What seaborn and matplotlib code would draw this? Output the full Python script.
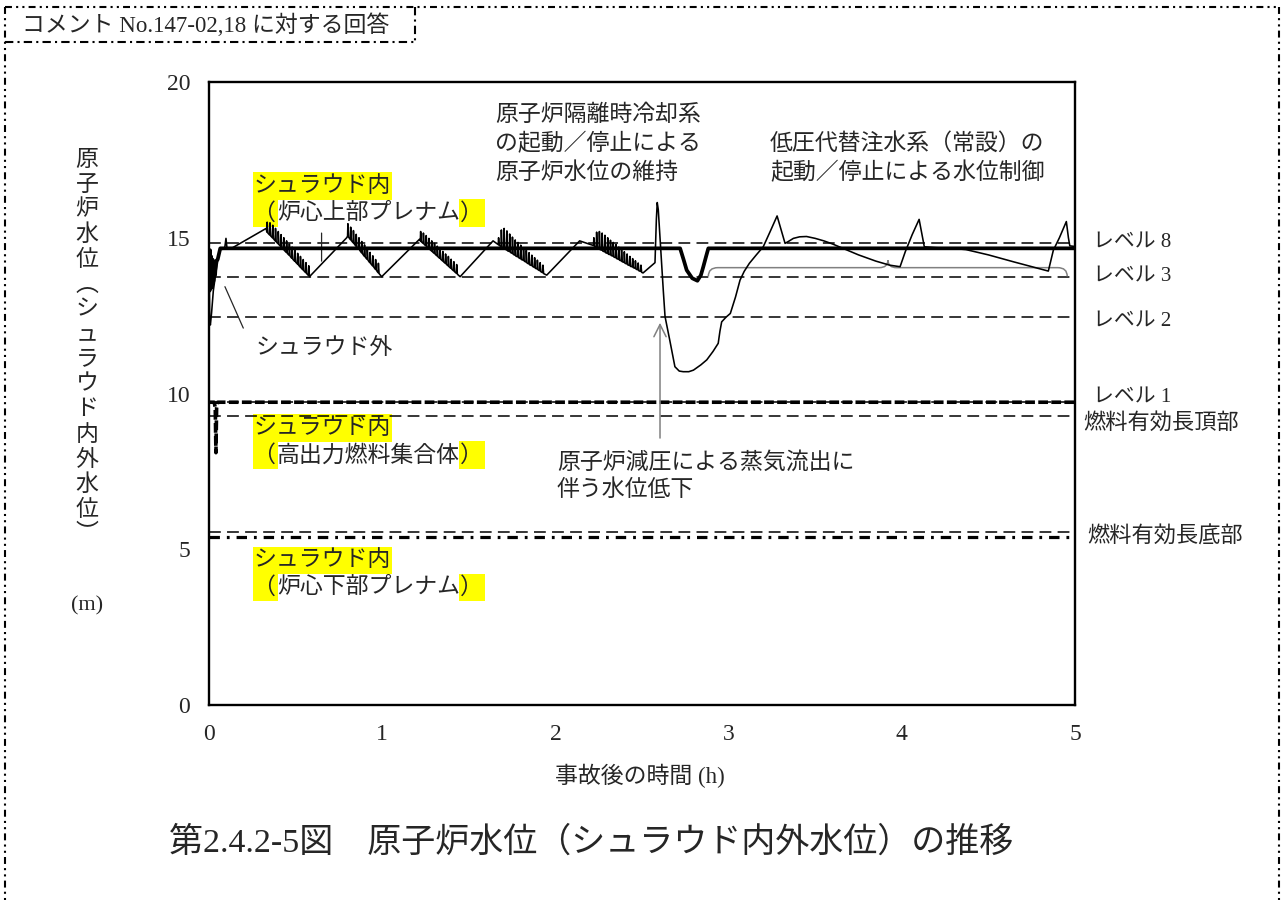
import matplotlib
matplotlib.use("Agg")
import matplotlib.pyplot as plt
import matplotlib.transforms as mtransforms
from matplotlib.patches import Rectangle, PathPatch
from matplotlib.path import Path
from matplotlib.lines import Line2D
import seaborn as sns

sns.set_style("white")
FAMILY = ["Liberation Serif", "Noto Sans CJK JP"]
plt.rcParams["font.family"] = FAMILY
plt.rcParams["axes.unicode_minus"] = False
plt.rcParams["lines.scale_dashes"] = False

INK = "#262626"
HIGHLIGHT = "#ffff00"
GRAY = "#808080"

# ---------------------------------------------------------------- data ----
# reference water levels (m)
level_names = ["レベル 8", "レベル 3", "レベル 2", "レベル 1"]
level_values = [14.83, 13.73, 12.44, 9.72]
fuel_names = ["燃料有効長頂部", "燃料有効長底部"]
fuel_values = [9.28, 5.55]

# thin trace: water level with RCIC start/stop cycling, depressurisation, LPCI control
startup_t = [0.000, 0.004, 0.008, 0.015, 0.025, 0.040, 0.055, 0.065, 0.090, 0.098, 0.104, 0.130, 0.330]
startup_y = [14.60, 12.30, 12.20, 12.60, 13.30, 13.90, 14.40, 14.62, 14.64, 14.98, 14.66, 14.66, 15.30]

# RCIC cycling phases: each spike given by its start time, base level and peak level
cycle_a_t = [0.334, 0.350, 0.366, 0.382, 0.398, 0.414, 0.430, 0.446, 0.462, 0.478, 0.494, 0.510,
             0.526, 0.542, 0.558, 0.574]
cycle_a_base = [15.18, 15.09, 15.00, 14.90, 14.81, 14.72, 14.62, 14.53, 14.44, 14.34, 14.25, 14.16,
                14.06, 13.97, 13.88, 13.79]
cycle_a_peak = [15.50, 15.48, 15.40, 15.30, 15.20, 15.10, 15.00, 14.90, 14.80, 14.70, 14.60, 14.50,
                14.40, 14.30, 14.20, 14.10]
cycle_a_end = (0.580, 13.75)

cycle_b_start = (0.795, 15.00)
cycle_b_t = [0.800, 0.816, 0.832, 0.848, 0.864, 0.880, 0.896, 0.912, 0.928, 0.944, 0.960, 0.976]
cycle_b_base = [15.05, 14.94, 14.84, 14.73, 14.63, 14.52, 14.41, 14.31, 14.20, 14.10, 13.99, 13.88]
cycle_b_peak = [15.45, 15.34, 15.23, 15.11, 15.00, 14.88, 14.77, 14.65, 14.53, 14.42, 14.30, 14.18]
cycle_b_end = (0.997, 13.75)

cycle_c_start = (1.215, 14.95)
cycle_c_t = [1.220, 1.236, 1.252, 1.268, 1.284, 1.300, 1.316, 1.332, 1.348, 1.364, 1.380, 1.396,
             1.412, 1.428]
cycle_c_base = [14.90, 14.82, 14.74, 14.66, 14.58, 14.50, 14.42, 14.34, 14.26, 14.18, 14.10, 14.02,
                13.94, 13.86]
cycle_c_peak = [15.20, 15.15, 15.07, 14.98, 14.90, 14.82, 14.73, 14.65, 14.56, 14.48, 14.40, 14.31,
                14.23, 14.14]
cycle_c_end = (1.450, 13.75)

cycle_d_start = (1.640, 14.90)
cycle_d_t = [1.670, 1.686, 1.702, 1.718, 1.734, 1.750, 1.766, 1.782, 1.798, 1.814, 1.830, 1.846,
             1.862, 1.878, 1.894, 1.910, 1.926]
cycle_d_base = [14.78, 14.72, 14.67, 14.61, 14.56, 14.50, 14.44, 14.39, 14.33, 14.28, 14.22, 14.16,
                14.11, 14.05, 14.00, 13.94, 13.88]
cycle_d_peak = [15.00, 15.25, 15.30, 15.22, 15.12, 15.02, 14.93, 14.85, 14.76, 14.68, 14.60, 14.52,
                14.44, 14.36, 14.28, 14.20, 14.12]
cycle_d_end = (1.950, 13.80)

cycle_e_start = (2.140, 14.90)
cycle_e_t = [2.220, 2.236, 2.252, 2.268, 2.284, 2.300, 2.316, 2.332, 2.348, 2.364, 2.380, 2.396,
             2.412, 2.428, 2.444, 2.460, 2.476, 2.492]
cycle_e_base = [14.75, 14.70, 14.65, 14.60, 14.55, 14.50, 14.46, 14.41, 14.36, 14.31, 14.26, 14.21,
                14.16, 14.11, 14.07, 14.02, 13.97, 13.92]
cycle_e_peak = [15.00, 15.18, 15.20, 15.15, 15.08, 15.00, 14.92, 14.85, 14.78, 14.70, 14.62, 14.55,
                14.48, 14.40, 14.33, 14.26, 14.19, 14.12]
cycle_e_end = (2.506, 13.87)

depress_t = [2.575, 2.583, 2.588, 2.594, 2.605, 2.623, 2.633, 2.660, 2.690, 2.715, 2.738, 2.770,
             2.797, 2.840, 2.874, 2.910, 2.940, 2.950, 2.960, 2.985, 3.010, 3.040, 3.066, 3.090,
             3.120, 3.160, 3.200, 3.240, 3.280, 3.326, 3.345, 3.374, 3.410, 3.450, 3.500, 3.550,
             3.600, 3.660, 3.750, 3.850, 3.930, 3.990]
depress_y = [14.20, 15.60, 16.13, 15.90, 14.90, 13.30, 12.47, 11.72, 10.86, 10.72, 10.70, 10.70,
             10.75, 10.92, 11.08, 11.35, 11.61, 12.00, 12.30, 12.45, 12.57, 13.10, 13.64, 13.92,
             14.18, 14.45, 14.71, 15.20, 15.70, 14.82, 14.88, 14.98, 15.03, 15.04, 14.98, 14.90,
             14.80, 14.66, 14.45, 14.25, 14.12, 14.07]

lpci_t = [4.020, 4.060, 4.100, 4.115, 4.130, 4.200, 4.290, 4.370, 4.500, 4.650, 4.800, 4.846,
          4.875, 4.910, 4.950, 4.962, 4.970, 5.000]
lpci_y = [14.55, 15.10, 15.59, 15.15, 14.71, 14.68, 14.66, 14.62, 14.45, 14.22, 14.00, 13.93,
          14.60, 15.00, 15.52, 15.00, 14.74, 14.72]

# thick trace: steady level with a dip during depressurisation
thick_t = [0.000, 0.003, 0.006, 0.009, 0.012, 0.016, 0.020, 0.025, 0.030, 0.035, 0.040, 0.050,
           0.065, 2.720, 2.740, 2.758, 2.790, 2.820, 2.840, 2.854, 2.870, 2.883, 5.000]
thick_y = [14.50, 13.30, 14.60, 13.50, 14.40, 13.40, 14.30, 13.60, 14.20, 13.80, 14.25, 14.30,
           14.66, 14.66, 14.30, 13.96, 13.70, 13.62, 13.80, 14.07, 14.40, 14.66, 14.66]

# shroud inside, high-power fuel assembly
hp_t = [0.000, 0.030, 0.036, 0.040, 0.044, 0.050, 5.000]
hp_y = [9.72, 9.72, 9.55, 8.10, 9.55, 9.72, 9.72]

# shroud inside, lower plenum
lp_t = [0.0, 5.0]
lp_y = [5.39, 5.39]

# LPCI level-control window marked with a brace
lpci_window = (2.883, 4.955)
lpci_brace_level = 14.04

x_ticks = [0, 1, 2, 3, 4, 5]
y_ticks = [0, 5, 10, 15, 20]

SPIKE_RISE = 0.002   # h, time from spike foot to its tip
SPIKE_FALL = 0.006   # h, time from spike foot back to the base line


def spikes(ts, bases, peaks):
    """Vertical spike train riding on a falling base line."""
    t_out, y_out = [], []
    for t, b, p in zip(ts, bases, peaks):
        t_out += [t, t + SPIKE_RISE, t + SPIKE_FALL]
        y_out += [b, p, b - 0.03]
    return t_out, y_out


thin_t, thin_y = list(startup_t), list(startup_y)
cycles = [
    (None, cycle_a_t, cycle_a_base, cycle_a_peak, cycle_a_end),
    (cycle_b_start, cycle_b_t, cycle_b_base, cycle_b_peak, cycle_b_end),
    (cycle_c_start, cycle_c_t, cycle_c_base, cycle_c_peak, cycle_c_end),
    (cycle_d_start, cycle_d_t, cycle_d_base, cycle_d_peak, cycle_d_end),
    (cycle_e_start, cycle_e_t, cycle_e_base, cycle_e_peak, cycle_e_end),
]
for start, ts, bs, ps, end in cycles:
    if start is not None:
        thin_t.append(start[0])
        thin_y.append(start[1])
    st, sy = spikes(ts, bs, ps)
    thin_t += st + [end[0]]
    thin_y += sy + [end[1]]
thin_t += depress_t + lpci_t
thin_y += depress_y + lpci_y

# -------------------------------------------------------------- figure ----
W, H = 1288, 900
fig = plt.figure(figsize=(W / 100, H / 100), dpi=100)


def px(x, y):
    return x / W, 1 - y / H


ax = fig.add_axes([209 / W, 1 - 705 / H, 866 / W, 623 / H])
ax.set_xlim(0, 5)
ax.set_ylim(0, 20)

DASH = (0, (8.5, 4.5))
for v in level_values + fuel_values:
    ax.axhline(v, color="k", lw=1.1, ls=DASH, zorder=2)

sns.lineplot(x=lp_t, y=lp_y, sort=False, estimator=None, color="k", lw=2.3,
             linestyle=(0, (7.5, 5.0, 2.0, 5.0)), ax=ax, zorder=3)
sns.lineplot(x=hp_t, y=hp_y, sort=False, estimator=None, color="k", lw=2.6,
             linestyle=(0, (7.0, 2.4)), ax=ax, zorder=3)
sns.lineplot(x=thick_t, y=thick_y, sort=False, estimator=None, color="k", lw=2.7,
             ax=ax, zorder=4)
sns.lineplot(x=thin_t, y=thin_y, sort=False, estimator=None, color="k", lw=1.15,
             ax=ax, zorder=5)

# brace over the LPCI control window
t0, t1 = lpci_window
yb = lpci_brace_level
tm = 3.92
verts = [(t0, 13.76), (t0, yb), (t0 + 0.055, yb), (tm - 0.05, yb),
         (tm, yb), (tm, yb + 0.24), (tm, yb), (tm + 0.05, yb), (t1 - 0.055, yb),
         (t1, yb), (t1, 13.76)]
codes = [Path.MOVETO, Path.CURVE3, Path.CURVE3, Path.LINETO,
         Path.CURVE3, Path.CURVE3, Path.CURVE3, Path.CURVE3, Path.LINETO,
         Path.CURVE3, Path.CURVE3]
ax.add_patch(PathPatch(Path(verts, codes), fc="none", ec=GRAY, lw=1.1, zorder=4))

# leaders and arrow
ax.annotate("", xy=(0.092, 13.43), xytext=(0.198, 12.10),
            arrowprops=dict(arrowstyle="-", lw=0.9, color=INK, shrinkA=0, shrinkB=0))
ax.annotate("", xy=(0.65, 14.25), xytext=(0.65, 15.15),
            arrowprops=dict(arrowstyle="-", lw=0.9, color=INK, shrinkA=0, shrinkB=0))
ax.annotate("", xy=(2.604, 12.27), xytext=(2.604, 8.57),
            arrowprops=dict(arrowstyle="->", lw=1.1, color=GRAY, shrinkA=0, shrinkB=0,
                            mutation_scale=22))

# axes styling
for s in ax.spines.values():
    s.set_color("k")
    s.set_linewidth(1.7)
ax.set_xticks(x_ticks)
ax.set_yticks(y_ticks)
ax.tick_params(direction="in", length=6, width=1.2, color="k", labelcolor=INK,
               labelsize=17, top=False, right=False)
ax.tick_params(axis="x", pad=14)
ax.tick_params(axis="y", pad=13.5)
ax.set_xlabel("")
ax.set_ylabel("")

FS = 16.5


def stacked(t, y, lines, pitch_px=29, **kw):
    for i, line in enumerate(lines):
        ax.annotate(line, xy=(t, y), xycoords="data", xytext=(0, -i * pitch_px * 0.72),
                    textcoords="offset points", ha="left", va="center", fontsize=FS,
                    color=INK, annotation_clip=False, **kw)


stacked(1.651, 18.94, ["原子炉隔離時冷却系", "の起動／停止による", "原子炉水位の維持"])
stacked(3.239, 18.01, ["低圧代替注水系（常設）の", "起動／停止による水位制御"])
stacked(2.009, 7.77, ["原子炉減圧による蒸気流出に", "伴う水位低下"], pitch_px=27)
ax.text(0.266, 11.46, "シュラウド外", fontsize=FS, color=INK, ha="left", va="center")


def shroud_label(t, y, sub):
    tr = fig.dpi_scale_trans + mtransforms.ScaledTranslation(t, y, ax.transData)
    em = FS / 72
    lh = 0.27
    n = len(sub)
    for (x0, yy, w) in [(0, -lh, 6 * em + 0.02), (0, -2 * lh, em + 0.02),
                        ((n + 1) * em, -2 * lh, em + 0.03)]:
        ax.add_patch(Rectangle((x0, yy), w, lh + 0.005, transform=tr, fc=HIGHLIGHT,
                               ec="none", zorder=1, clip_on=False))
    kw = dict(transform=tr, fontsize=FS, color=INK, va="center", zorder=6, clip_on=False)
    ax.text(0.01, -lh / 2, "シュラウド内", ha="left", **kw)
    ax.text(em - 0.005, -1.5 * lh, "（", ha="right", **kw)
    ax.text(em + 0.01, -1.5 * lh, sub, ha="left", **kw)
    ax.text((n + 1) * em + 0.01, -1.5 * lh, "）", ha="left", **kw)


shroud_label(0.254, 17.08, "炉心上部プレナム")
shroud_label(0.254, 9.31, "高出力燃料集合体")
shroud_label(0.254, 5.07, "炉心下部プレナム")

# right-hand labels for reference levels
level_dy = [0.0, 0.0, -0.15, 0.12]
for name, v, dy in zip(level_names, level_values, level_dy):
    ax.text(5.104, v + dy, name, fontsize=15, color=INK, ha="left", va="center",
            clip_on=False)
ax.text(5.046, fuel_values[0] - 0.23, fuel_names[0], fontsize=16, color=INK,
        ha="left", va="center", clip_on=False)
ax.text(5.069, fuel_values[1] - 0.16, fuel_names[1], fontsize=16, color=INK,
        ha="left", va="center", clip_on=False)

# axis titles
ylabel_chars = "原子炉水位︵シュラウド内外水位︶"
for i, ch in enumerate(ylabel_chars):
    fig.text(*px(87, 160 + 25 * i), ch, fontsize=FS, color=INK, ha="center", va="center")
fig.text(*px(87, 606), "(m)", fontsize=16, color=INK, ha="center", va="center")
fig.text(*px(640, 776), "事故後の時間 (h)", fontsize=FS, color=INK, ha="center", va="center")

# caption and header
fig.text(*px(591, 843), "第2.4.2-5図　原子炉水位（シュラウド内外水位）の推移", fontsize=24.5,
         color=INK, ha="center", va="center")
fig.text(*px(22, 25), "コメント No.147-02,18 に対する回答", fontsize=16.5, color=INK,
         ha="left", va="center")

frame_ls = (0, (5.0, 3.0, 1.5, 3.0, 1.5, 3.0))
box_ls = (0, (6.0, 3.0, 1.5, 3.0))


def fig_line(xs, ys, ls):
    pts = [px(x, y) for x, y in zip(xs, ys)]
    fig.add_artist(Line2D([p[0] for p in pts], [p[1] for p in pts], transform=fig.transFigure,
                          color="k", lw=1.5, linestyle=ls))


fig_line([5, 1279], [7, 7], frame_ls)
fig_line([5, 5], [7, 900], frame_ls)
fig_line([1279, 1279], [7, 900], frame_ls)
fig_line([5, 415], [42, 42], box_ls)
fig_line([415, 415], [7, 42], box_ls)

fig.savefig("out.png", dpi=100, facecolor="white")
